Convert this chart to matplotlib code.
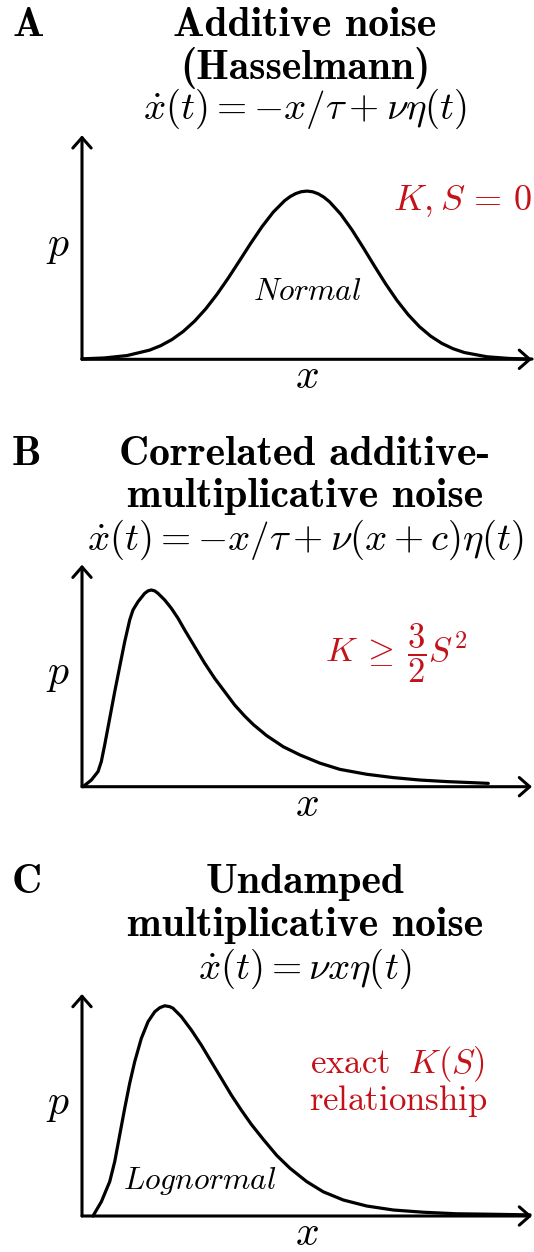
import matplotlib
matplotlib.use("Agg")
import matplotlib.pyplot as plt

plt.rcParams['mathtext.fontset'] = 'cm'

# --- schematic densities, x from 0 to 10, height from 0 to 1 ---
# A: normal shape
xa = [0, 0.5, 1, 1.5, 1.75, 2, 2.25, 2.5, 2.75, 3, 3.25, 3.5, 3.75, 4, 4.25, 4.5,
      4.625, 4.75, 4.875, 5, 5.125, 5.25, 5.375, 5.5, 5.75, 6, 6.25, 6.5, 6.75, 7,
      7.25, 7.5, 7.75, 8, 8.25, 8.5, 9, 9.5, 10]
ya = [0.0020, 0.0061, 0.0167, 0.0408, 0.0609, 0.0883, 0.1244, 0.1699, 0.2253, 0.2901,
      0.3626, 0.4398, 0.5179, 0.5920, 0.6570, 0.7077, 0.7263, 0.7399, 0.7482, 0.751,
      0.7479, 0.7388, 0.7238, 0.7033, 0.6479, 0.5776, 0.4983, 0.4160, 0.3361, 0.2628,
      0.1988, 0.1455, 0.1031, 0.0707, 0.0469, 0.0301, 0.0113, 0.0037, 0.0011]

# B: skewed, heavy tail
xb = [0.022, 0.207, 0.356, 0.429, 0.504, 0.616, 0.727, 0.838, 0.949, 1.06, 1.133,
      1.244, 1.393, 1.467, 1.54, 1.616, 1.689, 1.838, 1.984, 2.133, 2.282, 2.504,
      2.727, 2.949, 3.171, 3.393, 3.616, 3.807, 4.104, 4.473, 4.844, 5.289, 5.733,
      6.327, 6.918, 7.511, 8.104, 8.696, 9.029]
yb = [0.0, 0.030, 0.068, 0.113, 0.188, 0.308, 0.428, 0.541, 0.653, 0.751, 0.796,
      0.833, 0.871, 0.882, 0.886, 0.882, 0.871, 0.841, 0.804, 0.759, 0.706, 0.631,
      0.556, 0.488, 0.428, 0.368, 0.318, 0.280, 0.230, 0.180, 0.143, 0.106, 0.078,
      0.056, 0.041, 0.030, 0.023, 0.018, 0.015]

# C: lognormal shape
xc = [0.244, 0.429, 0.616, 0.727, 0.838, 0.949, 1.06, 1.171, 1.318, 1.467, 1.616,
      1.727, 1.838, 1.949, 2.022, 2.207, 2.429, 2.651, 2.873, 3.096, 3.318, 3.54,
      3.762, 4.029, 4.327, 4.622, 4.993, 5.362, 5.807, 6.327, 6.918, 7.584, 8.327,
      9.067, 9.956]
yc = [0.0, 0.064, 0.155, 0.245, 0.365, 0.485, 0.598, 0.695, 0.800, 0.875, 0.920,
      0.938, 0.947, 0.943, 0.936, 0.898, 0.838, 0.770, 0.695, 0.620, 0.545, 0.477,
      0.413, 0.345, 0.273, 0.215, 0.155, 0.109, 0.072, 0.045, 0.027, 0.017, 0.010,
      0.008, 0.005]

letters = ['A', 'B', 'C']
titles = [['Additive noise', '(Hasselmann)'],
          ['Correlated additive-', 'multiplicative noise'],
          ['Undamped', 'multiplicative noise']]
equations = [r'$\dot{x}(t) = -x/\tau + \nu\eta(t)$',
             r'$\dot{x}(t) = -x/\tau + \nu(x+c)\eta(t)$',
             r'$\dot{x}(t) = \nu x \eta(t)$']

RED = '#c4121a'
W, H = 534, 1252

fig = plt.figure(figsize=(W / 100, H / 100), dpi=100)

def fy(py):
    return 1 - py / H

# title baselines (pixels from top), axes origin and height
base_rows = [(36, 79, 119), (465, 507, 550), (893, 936, 979)]
origins = [359.3, 786.7, 1216]
heights = [224, 222, 222]

curves = [(xa, ya), (xb, yb), (xc, yc)]
axs = []

for i in range(3):
    b1, b2, b3 = base_rows[i]
    fig.text(12 / W, fy(b1), letters[i], family='cmb10', fontsize=30, va='baseline')
    fig.text(305 / W, fy(b1), titles[i][0], family='cmb10', fontsize=30,
             ha='center', va='baseline')
    fig.text(305 / W, fy(b2), titles[i][1], family='cmb10', fontsize=30,
             ha='center', va='baseline')
    fig.text(305 / W, fy(b3), equations[i], fontsize=28, ha='center', va='baseline')

    oy = origins[i]
    ax = fig.add_axes([82 / W, (H - oy) / H, 450 / W, heights[i] / H])
    ax.set_xlim(0, 10)
    ax.set_ylim(0, 1)
    ax.axis('off')
    axs.append(ax)

    for tip in [(10, 0), (0, 1)]:
        ax.annotate('', xy=tip, xytext=(0, 0), annotation_clip=False,
                    arrowprops=dict(arrowstyle='->, head_length=0.25, head_width=0.22',
                                    lw=2.2, color='k', shrinkA=0, shrinkB=0,
                                    mutation_scale=30))

    cx, cy = curves[i]
    ax.plot(cx, cy, color='k', lw=2.3, clip_on=False, solid_joinstyle='round',
            solid_capstyle='round')

    ax.text(-0.535, 0.51, '$p$', fontsize=30, ha='center', va='center')
    ax.text(5.0, -0.13, '$x$', fontsize=30, ha='center', va='baseline')

axs[0].text(10.0, 0.667, r'$K,S\,=\,0$', color=RED, fontsize=26, ha='right',
            va='baseline')
axs[0].text(5.01, 0.265, '$Normal$', fontsize=22.5, ha='center', va='baseline')
axs[1].text(6.99, 0.563, r'$K\:\geq\:\dfrac{3}{2}S^2$', color=RED, fontsize=25,
            ha='center', va='baseline')
axs[2].text(7.02, 0.645, r'$\mathrm{exact}\;\ K(S)$', color=RED, fontsize=25,
            ha='center', va='baseline')
axs[2].text(7.02, 0.478, r'$\mathrm{relationship}$', color=RED, fontsize=25,
            ha='center', va='baseline')
axs[2].text(2.62, 0.12, '$Lognormal$', fontsize=22.5, ha='center', va='baseline')

fig.savefig('out.png', dpi=100)
